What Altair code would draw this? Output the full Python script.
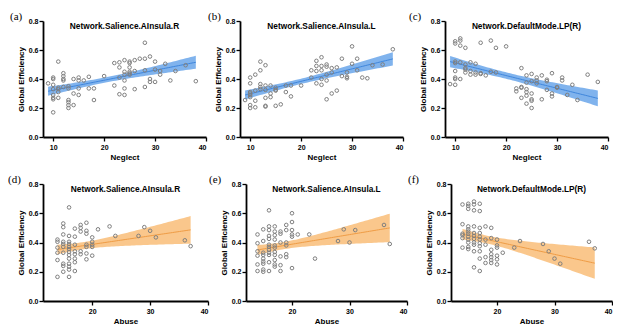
import altair as alt
import numpy as np
import pandas as pd

# ---------------- data ----------------
a_x = [9, 10,10,10,10,10,10,10,10, 11,11,11,11,11, 12,12,12,12,12, 13,13,13,13,13,13,
       14,14,14, 15,15,15,15, 16, 17,17, 18,18, 20, 22,22, 23,23,23,23,
       24,24,24,24,24,24, 25,25,25,25,25,25, 26,26,26, 27, 28,28,28,28,
       29,29,29, 30,30,30, 31,31, 32, 33, 34, 36, 38]
a_y = [0.37, 0.41,0.40,0.36,0.33,0.29,0.27,0.26,0.17, 0.52,0.34,0.33,0.31,0.27,
       0.44,0.42,0.40,0.39,0.345, 0.35,0.335,0.255,0.24,0.22,0.20,
       0.40,0.30,0.22, 0.41,0.39,0.335,0.29, 0.39, 0.415,0.335, 0.335,0.255, 0.42,
       0.51,0.355, 0.515,0.48,0.41,0.295, 0.53,0.45,0.43,0.39,0.335,0.29,
       0.52,0.51,0.48,0.45,0.44,0.43, 0.53,0.455,0.33, 0.54, 0.65,0.54,0.46,0.345,
       0.555,0.40,0.38, 0.52,0.465,0.38, 0.455,0.43, 0.505, 0.39, 0.455, 0.495, 0.385]

b_x = [9, 10,10,10,10,10,10,10,10, 11,11,11,11, 12,12,12,12,12, 13,13,13,13,13,13,
       14,14,14, 15,15,15,15, 16, 17,17, 18,18, 20, 22,22, 23,23,23,23,
       24,24,24,24,24, 25,25,25,25,25, 26,26,26, 27,27, 28,28, 29,29,29,
       30,30, 31,31, 32, 33, 34, 36, 38]
b_y = [0.255, 0.41,0.37,0.31,0.30,0.29,0.275,0.22,0.20, 0.43,0.32,0.25,0.205,
       0.52,0.46,0.365,0.345,0.33, 0.495,0.355,0.325,0.27,0.215,0.21,
       0.355,0.30,0.275, 0.34,0.325,0.32,0.215, 0.225, 0.355,0.31, 0.355,0.28, 0.355,
       0.46,0.41, 0.525,0.49,0.455,0.37, 0.55,0.49,0.46,0.40,0.36,
       0.50,0.485,0.43,0.39,0.26, 0.475,0.445,0.30, 0.48,0.32, 0.54,0.42,
       0.445,0.415,0.405, 0.625,0.505, 0.54,0.46, 0.41, 0.405, 0.495, 0.50, 0.605]

c_x = [9, 10,10,10,10,10,10,10,10, 11,11,11,11,11, 12,12,12,12,12, 13,13,13,
       14,14,14, 15,15,15, 16, 17,17, 18,18, 20, 22,22, 23,23,23,23,
       24,24,24,24,24,24, 25,25,25,25,25,25, 26,26,26, 27,27, 28,28,28,
       29,29,29, 30,30, 31,31, 32, 33, 34, 36, 38]
c_y = [0.365, 0.66,0.645,0.52,0.51,0.455,0.41,0.40,0.36, 0.68,0.665,0.63,0.515,0.40,
       0.615,0.50,0.475,0.465,0.445, 0.515,0.455,0.43, 0.505,0.445,0.43,
       0.65,0.44,0.435, 0.425, 0.665,0.45, 0.615,0.445, 0.625, 0.335,0.315,
       0.475,0.345,0.34,0.27, 0.425,0.375,0.33,0.31,0.285,0.23,
       0.435,0.385,0.30,0.26,0.25,0.20, 0.41,0.39,0.37, 0.425,0.26, 0.395,0.385,0.325,
       0.44,0.30,0.28, 0.345,0.34, 0.41,0.39, 0.29, 0.36, 0.255, 0.43, 0.38]

d_x = [14,14,14,14,14,14, 15,15,15,15,15,15,15,15,15,15,
       16,16,16,16,16,16,16,16,16,16,16,16,16, 17,17,17,17,17,17,17,17,
       18,18,18,18,18, 19,19,19,19,19,19,19, 20,20,20,20,20,
       21, 23, 24, 28, 29, 30, 31, 36, 37]
d_y = [0.42,0.405,0.365,0.33,0.28,0.165, 0.53,0.505,0.455,0.405,0.39,0.37,0.33,0.255,0.24,0.20,
       0.64,0.445,0.405,0.39,0.37,0.355,0.335,0.315,0.29,0.255,0.235,0.215,0.165,
       0.495,0.44,0.385,0.34,0.32,0.29,0.265,0.205,
       0.52,0.50,0.475,0.34,0.32, 0.535,0.48,0.46,0.385,0.37,0.325,0.285,
       0.435,0.405,0.385,0.37,0.31,
       0.49, 0.51, 0.445, 0.445, 0.505, 0.48, 0.435, 0.415, 0.375]

e_x = [14,14,14,14,14,14, 15,15,15,15,15,15,15,15,15,
       16,16,16,16,16,16,16,16,16,16,16,16, 17,17,17,17,17,17,17,17,17,17,17,
       18,18,18,18,18,18, 19,19,19,19,19,19, 20,20,20,20,20,20,
       21, 23, 24, 28, 29, 30, 31, 36, 37]
e_y = [0.455,0.395,0.34,0.31,0.25,0.205, 0.49,0.41,0.33,0.315,0.29,0.27,0.255,0.215,0.20,
       0.62,0.51,0.485,0.445,0.425,0.385,0.37,0.35,0.33,0.315,0.265,0.205,
       0.51,0.475,0.45,0.42,0.38,0.365,0.335,0.315,0.28,0.25,0.235,
       0.475,0.46,0.40,0.305,0.245,0.205, 0.52,0.485,0.40,0.38,0.32,0.30,
       0.60,0.54,0.485,0.455,0.44,0.225,
       0.455, 0.455, 0.29, 0.41, 0.49, 0.40, 0.485, 0.52, 0.39]

f_x = [14,14,14,14,14,14, 15,15,15,15,15,15,15,15,15,15,15,15,
       16,16,16,16,16,16,16,16,16,16,16, 17,17,17,17,17,17,17,17,17,17,17,
       18,18,18,18,18, 19,19,19,19,19,19,19, 20,20,20,20,20,20,
       21, 23, 24, 28, 29, 30, 31, 36, 37]
f_y = [0.66,0.525,0.46,0.45,0.43,0.365,
       0.665,0.65,0.63,0.51,0.49,0.475,0.46,0.44,0.42,0.40,0.37,0.355,
       0.68,0.66,0.62,0.51,0.465,0.445,0.425,0.40,0.385,0.34,0.23,
       0.665,0.615,0.50,0.465,0.44,0.42,0.395,0.375,0.34,0.29,0.205,
       0.51,0.42,0.385,0.30,0.26, 0.50,0.43,0.35,0.32,0.30,0.28,0.26,
       0.42,0.38,0.365,0.31,0.285,0.25,
       0.33, 0.365, 0.41, 0.39, 0.34, 0.29, 0.255, 0.405, 0.36]

titles = ["Network.Salience.AInsula.R", "Network.Salience.AInsula.L", "Network.DefaultMode.LP(R)"]
letters = ["(a)", "(b)", "(c)", "(d)", "(e)", "(f)"]
x_titles = ["Neglect", "Abuse"]
x_ticks = [10, 20, 30, 40]
y_ticks = [0.0, 0.2, 0.4, 0.6, 0.8]

BLUE_FILL, BLUE_LINE = "#6aa6ea", "#3f86dc"
ORANGE_FILL, ORANGE_LINE = "#f9bd78", "#ef9c45"
AX = "Liberation Sans"


def fit_band(xs, ys, t=1.99):
    x = np.asarray(xs, float)
    y = np.asarray(ys, float)
    n = len(x)
    b, a = np.polyfit(x, y, 1)
    resid = y - (a + b * x)
    s = np.sqrt(np.sum(resid ** 2) / (n - 2))
    xbar = x.mean()
    sxx = np.sum((x - xbar) ** 2)
    grid = np.linspace(x.min(), x.max(), 60)
    fit = a + b * grid
    se = s * np.sqrt(1.0 / n + (grid - xbar) ** 2 / sxx)
    return pd.DataFrame({"x": grid, "fit": fit, "lo": fit - t * se, "hi": fit + t * se})


def panel(xs, ys, title, letter, xtitle, xdom, w, h, fill, line, letter_dx):
    pts = pd.DataFrame({"x": xs, "y": ys})
    band = fit_band(xs, ys)
    xs_ = alt.Scale(domain=xdom, nice=False, zero=False)
    ys_ = alt.Scale(domain=[0, 0.8], nice=False)
    xaxis = alt.Axis(values=x_ticks, title=xtitle, grid=False, labelOverlap=False)
    yaxis = alt.Axis(values=y_ticks, format=".1f", title="Global Efficiency", grid=False,
                     labelOverlap=False, labelFlush=False, labelBound=False)

    area = alt.Chart(band).mark_area(color=fill, opacity=0.85).encode(
        x=alt.X("x:Q", scale=xs_, axis=xaxis),
        y=alt.Y("lo:Q", scale=ys_, axis=yaxis),
        y2="hi:Q",
    )
    ln = alt.Chart(band).mark_line(color=line, strokeWidth=1).encode(
        x=alt.X("x:Q", scale=xs_, axis=xaxis), y=alt.Y("fit:Q", scale=ys_, axis=yaxis)
    )
    dots = alt.Chart(pts).mark_point(shape="circle", filled=False, color="#7f7f7f",
                                     size=13, strokeWidth=1, opacity=1).encode(
        x=alt.X("x:Q", scale=xs_, axis=xaxis), y=alt.Y("y:Q", scale=ys_, axis=yaxis)
    )
    ttl = alt.Chart(pd.DataFrame({"t": [title]})).mark_text(
        font=AX, fontWeight="bold", fontSize=8.3, baseline="middle", align="center", color="black"
    ).encode(text="t:N", x=alt.value(w / 2), y=alt.value(6))
    let = alt.Chart(pd.DataFrame({"t": [letter]})).mark_text(
        font="Liberation Serif", fontSize=11, baseline="middle", align="left", color="black"
    ).encode(text="t:N", x=alt.value(letter_dx), y=alt.value(-4))
    return alt.layer(area, ln, dots, ttl, let).properties(width=w, height=h)


top = alt.hconcat(
    panel(a_x, a_y, titles[0], letters[0], x_titles[0], [8, 40], 163, 116, BLUE_FILL, BLUE_LINE, -33),
    alt.hconcat(
        panel(b_x, b_y, titles[1], letters[1], x_titles[0], [8, 40], 163, 116, BLUE_FILL, BLUE_LINE, -32),
        panel(c_x, c_y, titles[2], letters[2], x_titles[0], [8, 40], 163, 116, BLUE_FILL, BLUE_LINE, -36),
        spacing=5,
    ),
    spacing=1,
)
bottom = alt.hconcat(
    panel(d_x, d_y, titles[0], letters[3], x_titles[1], [11.5, 40], 165, 117, ORANGE_FILL, ORANGE_LINE, -35),
    panel(e_x, e_y, titles[1], letters[4], x_titles[1], [12, 40], 161, 117, ORANGE_FILL, ORANGE_LINE, -37),
    panel(f_x, f_y, titles[2], letters[5], x_titles[1], [12, 40], 161, 117, ORANGE_FILL, ORANGE_LINE, -43),
    spacing=0,
)

chart = alt.vconcat(top, bottom, spacing=13).properties(
    padding={"left": 0, "top": 3, "right": 0, "bottom": 0}
).configure_view(stroke=None).configure_axis(
    domainColor="black", domainWidth=1.8, tickColor="black", tickWidth=1.3, tickSize=4,
    labelFont=AX, labelFontWeight="bold", labelFontSize=7, labelColor="black", labelPadding=1,
    titleFont=AX, titleFontWeight="bold", titleFontSize=8, titleColor="black", titlePadding=3,
    labelOverlap=False,
).configure_axisX(labelPadding=2, titlePadding=3)

chart.save("out.html", embed_options={"renderer": "svg", "actions": False})
